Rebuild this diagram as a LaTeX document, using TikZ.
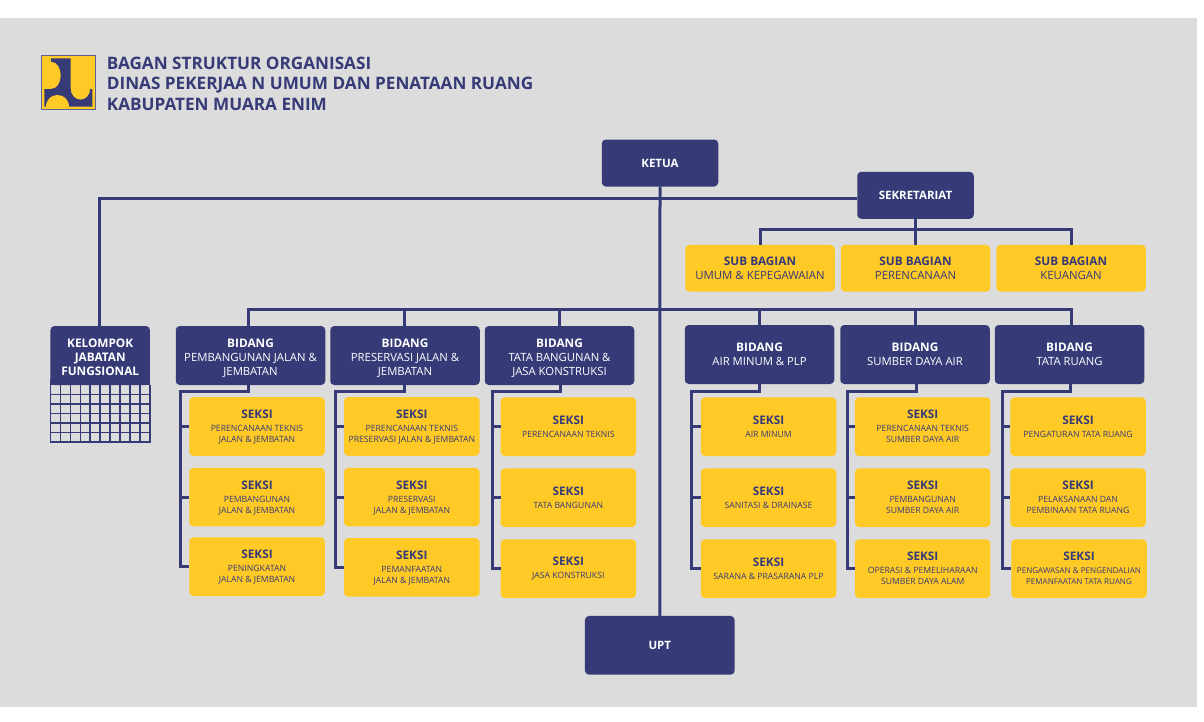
\documentclass[tikz,border=0pt]{standalone}
\usepackage{fontspec}
\setmainfont{Open Sans}
\usetikzlibrary{positioning}
\definecolor{punavy}{RGB}{54,59,120}
\definecolor{puyellow}{RGB}{255,201,38}
\definecolor{pugrey}{RGB}{220,220,220}
\tikzstyle{navybox} = [rectangle, rounded corners=4pt, inner sep=0pt, outer sep=0pt, align=center, fill=punavy, text=white, minimum width=149.5pt, minimum height=59pt, font=\fontsize{11.3}{14}\selectfont]
\tikzstyle{topbox} = [navybox, minimum width=116.5pt, minimum height=47pt, font=\fontsize{11.5}{14}\selectfont\bfseries]
\tikzstyle{subbox} = [rectangle, rounded corners=4pt, inner sep=0pt, outer sep=0pt, align=center, fill=puyellow, text=punavy, minimum width=149.5pt, minimum height=46.7pt, font=\fontsize{11.4}{14}\selectfont]
\tikzstyle{seksibox} = [subbox, minimum width=135.5pt, minimum height=58.6pt, font=\fontsize{8.65}{11}\selectfont]
\tikzstyle{link} = [line width=3pt, color=punavy]
\newcommand{\hdb}{\bfseries\fontsize{11.8}{14}\selectfont}
\newcommand{\lastln}[1]{\smash{#1}}
\newcommand{\toplift}{\rule{0pt}{12pt}}
\begin{document}
\begin{tikzpicture}[x=1pt, y=-1pt]
\useasboundingbox (0,0) rectangle (1204,721);
\fill[white] (0,0) rectangle (1204,721);
\fill[pugrey] (0,18) rectangle (1197,707);

% Logo
\fill[puyellow, draw=punavy!80, line width=1pt] (41.7,55.3) rectangle (95,109.5);
\fill[punavy] (51,58.3) -- (70.7,58.3) -- (70.7,88.3) .. controls (70.7,103.3) and (90,103.3) .. (90,89) -- (92.3,89) -- (92.3,106.7) -- (44.3,106.7) -- (44.3,89) -- (51,89) .. controls (64,89) and (64,61.7) .. (51,61.7) -- cycle;
\fill[puyellow] (46,106.7) .. controls (46,91) and (69.3,91) .. (69.3,106.7) -- cycle;

% Title
\node[anchor=west, inner sep=0pt, align=left, text=punavy, font=\fontsize{17.15}{20.5}\selectfont\bfseries] (judul) at (106.7,83.5) {BAGAN STRUKTUR ORGANISASI\\DINAS PEKERJAA N UMUM DAN PENATAAN RUANG\\KABUPATEN MUARA ENIM};

% Top
\node[topbox] (ketua) at (660,163) {KETUA};
\node[topbox] (sekre) at (915.5,195.3) {SEKRETARIAT};
\node[topbox, minimum width=149.7pt, minimum height=58.7pt] (upt) at (659.8,645.3) {UPT};

% Sub bagian
\node[subbox] (sub2) at (915.5,268.3) {{\hdb SUB BAGIAN}\\PERENCANAAN};
\node[subbox, left=6pt of sub2] (sub1) {{\hdb SUB BAGIAN}\\UMUM \& KEPEGAWAIAN};
\node[subbox, right=6pt of sub2] (sub3) {{\hdb SUB BAGIAN}\\KEUANGAN};

% Bidang
\node[navybox] (bid1) at (250.5,355.5) {\toplift{\hdb BIDANG}\\[0.5pt]PEMBANGUNAN JALAN \&\\\lastln{JEMBATAN}};
\node[navybox] (bid2) at (405,355.5) {\toplift{\hdb BIDANG}\\[0.5pt]PRESERVASI JALAN \&\\\lastln{JEMBATAN}};
\node[navybox] (bid3) at (559.5,355.5) {\toplift{\hdb BIDANG}\\[0.5pt]TATA BANGUNAN \&\\\lastln{JASA KONSTRUKSI}};
\node[navybox] (bid4) at (759.5,354.5) {{\hdb BIDANG}\\AIR MINUM \& PLP};
\node[navybox] (bid5) at (915,354.5) {{\hdb BIDANG}\\SUMBER DAYA AIR};
\node[navybox] (bid6) at (1069.5,354.5) {{\hdb BIDANG}\\TATA RUANG};

% Seksi
\node[seksibox] (s11) at (257,426.5) {{\hdb SEKSI}\\[2pt]PERENCANAAN TEKNIS\\\lastln{JALAN \& JEMBATAN}};
\node[seksibox, below=12pt of s11] (s12) {{\hdb SEKSI}\\[2pt]PEMBANGUNAN\\\lastln{JALAN \& JEMBATAN}};
\node[seksibox, below=11pt of s12] (s13) {{\hdb SEKSI}\\[2pt]PENINGKATAN\\\lastln{JALAN \& JEMBATAN}};
\node[seksibox] (s21) at (411.8,426.5) {{\hdb SEKSI}\\[2pt]PERENCANAAN TEKNIS\\\lastln{PRESERVASI JALAN \& JEMBATAN}};
\node[seksibox, below=12pt of s21] (s22) {{\hdb SEKSI}\\[2pt]PRESERVASI\\\lastln{JALAN \& JEMBATAN}};
\node[seksibox, below=11.7pt of s22] (s23) {{\hdb SEKSI}\\[2pt]PEMANFAATAN\\\lastln{JALAN \& JEMBATAN}};
\node[seksibox] (s31) at (568.3,426.7) {{\hdb SEKSI}\\[2pt]PERENCANAAN TEKNIS};
\node[seksibox, below=12.4pt of s31] (s32) {{\hdb SEKSI}\\[2pt]TATA BANGUNAN};
\node[seksibox, below=12.4pt of s32] (s33) {{\hdb SEKSI}\\[2pt]JASA KONSTRUKSI};
\node[seksibox] (s41) at (768.5,426.7) {{\hdb SEKSI}\\[2pt]AIR MINUM};
\node[seksibox, below=12.4pt of s41] (s42) {{\hdb SEKSI}\\[2pt]SANITASI \& DRAINASE};
\node[seksibox, below=12.4pt of s42] (s43) {{\hdb SEKSI}\\[2pt]SARANA \& PRASARANA PLP};
\node[seksibox] (s51) at (922.7,426.7) {{\hdb SEKSI}\\[2pt]PERENCANAAN TEKNIS\\SUMBER DAYA AIR};
\node[seksibox, below=12.4pt of s51] (s52) {{\hdb SEKSI}\\[2pt]PEMBANGUNAN\\SUMBER DAYA AIR};
\node[seksibox, below=12.4pt of s52] (s53) {{\hdb SEKSI}\\[2pt]OPERASI \& PEMELIHARAAN\\SUMBER DAYA ALAM};
\node[seksibox] (s61) at (1078,426.7) {{\hdb SEKSI}\\[2pt]PENGATURAN TATA RUANG};
\node[seksibox, below=12.4pt of s61] (s62) {{\hdb SEKSI}\\[2pt]PELAKSANAAN DAN\\PEMBINAAN TATA RUANG};
\node[seksibox, below=12.4pt of s62, xshift=1pt, font=\fontsize{8.05}{11}\selectfont] (s63) {{\hdb SEKSI}\\[2pt]PENGAWASAN \& PENGENDALIAN\\PEMANFAATAN TATA RUANG};

% Kelompok jabatan fungsional
\node[navybox, minimum width=99.5pt, font=\hdb] (kel) at (100.2,355.5) {\toplift KELOMPOK\\JABATAN\\FUNGSIONAL};
\fill[punavy] ([yshift=6pt]kel.south west) rectangle (kel.south east);
\foreach \i in {0,...,10} \draw[punavy, line width=1.6pt] ([xshift=\i*9.95pt]kel.south west) -- ++(0,57.5);
\foreach \j in {1,...,6} \draw[punavy, line width=1.6pt] ([yshift=-\j*9.5pt]kel.south west) -- ([yshift=-\j*9.5pt]kel.south east);

% Connectors
\coordinate (bus) at (660,309);
\coordinate (busk) at (99,198.7);
\coordinate (busu) at (915.5,229);
\draw[link] (ketua.south) -- (upt.north);
\draw[link] (sekre.west |- busk) -- (busk) -- (kel.north -| busk);
\draw[link] (sekre.south) -- (sub2.north);
\draw[link] (sub1.north) |- (busu) -| (sub3.north);
\draw[link] ([xshift=-2.5pt]bid1.north) |- (bus) -| ([xshift=1.5pt]bid6.north);
\draw[link] ([xshift=-1pt]bid2.north) -- ([xshift=-1pt]bid2.north |- bus);
\draw[link] (bid3.north) -- (bid3.north |- bus);
\draw[link] (bid4.north) -- (bid4.north |- bus);
\draw[link] (bid5.north) -- (bid5.north |- bus);
\foreach \k/\bx/\sx in {1/180/-2.5,2/335.3/-1,3/492.3/0.5,4/691.7/0,5/847.3/1,6/1002.3/0.5}{
  \coordinate (bus\k) at (\bx,391.7);
  \draw[link] ([xshift=\sx pt]bid\k.south) -- ([xshift=\sx pt]bid\k.south |- bus\k) -- (bus\k) |- (s\k3.west);
  \draw[link] (bus\k |- s\k1.west) -- (s\k1.west);
  \draw[link] (bus\k |- s\k2.west) -- (s\k2.west);
}
\end{tikzpicture}
\end{document}
